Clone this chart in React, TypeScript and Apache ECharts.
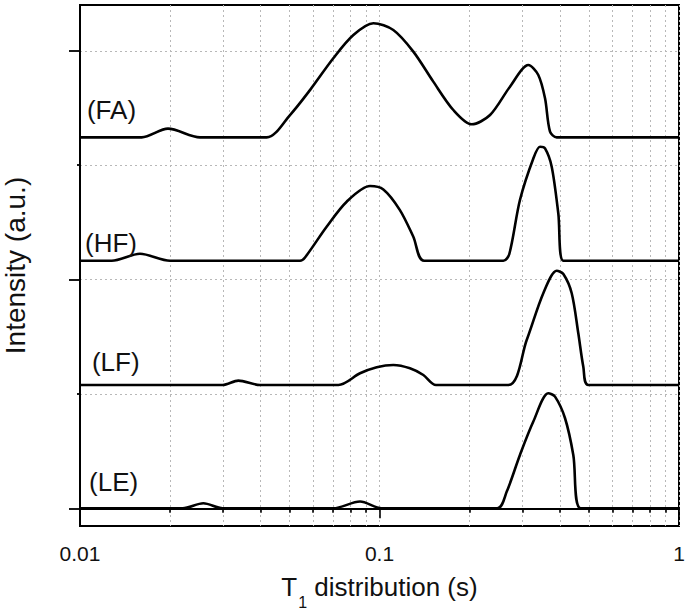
import React, { useEffect, useRef } from 'react';
import * as echarts from 'echarts';

// T1 relaxation time (s) and relative intensity for each sample
const T_FA = [0.01, 0.01607, 0.01967, 0.02517, 0.04201, 0.05025, 0.0586, 0.0701, 0.0818, 0.0954, 0.1112, 0.1297, 0.1512, 0.1764, 0.2032, 0.2339, 0.2727, 0.314, 0.339, 0.357, 0.371, 0.3906, 1];
const I_FA = [0, 0, 0.076, 0, 0, 0.195, 0.413, 0.691, 0.894, 0.997, 0.938, 0.749, 0.487, 0.239, 0.114, 0.195, 0.443, 0.632, 0.545, 0.341, 0.05, 0, 0];

const T_HF = [0.01, 0.01276, 0.01586, 0.01998, 0.0543, 0.0564, 0.0666, 0.0777, 0.093, 0.103, 0.117, 0.1297, 0.1409, 0.2591, 0.2713, 0.2944, 0.3263, 0.3435, 0.357, 0.3758, 0.3954, 0.411, 1];
const I_HF = [0, 0, 0.061, 0, 0, 0.029, 0.297, 0.516, 0.653, 0.623, 0.443, 0.21, 0, 0, 0.059, 0.531, 0.894, 0.997, 0.982, 0.822, 0.413, 0, 0];

const T_LF = [0.01, 0.02996, 0.03378, 0.0399, 0.0729, 0.0861, 0.0979, 0.1112, 0.1264, 0.1401, 0.1544, 0.2692, 0.3101, 0.3523, 0.3906, 0.411, 0.4383, 0.4611, 0.4792, 0.4981, 1];
const I_LF = [0, 0, 0.038, 0, 0, 0.102, 0.155, 0.175, 0.146, 0.087, 0, 0, 0.393, 0.802, 0.999, 0.97, 0.802, 0.452, 0.16, 0, 0];

const T_LE = [0.01, 0.02203, 0.02581, 0.02996, 0.0701, 0.0861, 0.1017, 0.2474, 0.266, 0.2944, 0.3263, 0.3661, 0.3855, 0.4164, 0.4437, 0.4696, 1];
const I_LE = [0, 0, 0.044, 0, 0, 0.059, 0, 0, 0.146, 0.466, 0.758, 1.005, 0.976, 0.787, 0.466, 0, 0];

const SAMPLE_NAMES = ['(FA)', '(HF)', '(LF)', '(LE)'];
const SAMPLE_T = [T_FA, T_HF, T_LF, T_LE];
const SAMPLE_I = [I_FA, I_HF, I_LF, I_LE];
const OFFSETS = [3.243, 2.164, 1.078, 0];
const LABEL_X = [0.01055, 0.01039, 0.01096, 0.01072];
const LABEL_Y = [3.482, 2.319, 1.281, 0.23];

const X_MAJOR = [0.01, 0.1, 1];
const X_MAJOR_LABELS = ['0.01', '0.1', '1'];
const X_MINOR = [0.02, 0.03, 0.04, 0.05, 0.06, 0.07, 0.08, 0.09, 0.2, 0.3, 0.4, 0.5, 0.6, 0.7, 0.8, 0.9];
const Y_MAJOR = [0, 2, 4];
const Y_MINOR = [1, 3];
const Y_MIN = -0.155;
const Y_MAX = 4.4;

const FONT = 'Liberation Sans, Arial, sans-serif';
const TEXT = '#111';
const GRID_LINE = { show: true, lineStyle: { color: '#b8b8b8', type: [2, 3] as any, width: 1 } };

export default function App() {
  const ref = useRef<HTMLDivElement>(null);
  useEffect(() => {
    const chart = echarts.init(ref.current!, null, { renderer: 'svg' });
    const lineSeries = SAMPLE_NAMES.map((name, s) => ({
      type: 'line',
      name,
      xAxisIndex: 0,
      yAxisIndex: 0,
      data: SAMPLE_T[s].map((t, i) => [t, OFFSETS[s] + SAMPLE_I[s][i]]),
      showSymbol: false,
      smooth: 0.3,
      lineStyle: { color: '#000', width: 2.6 },
      z: 5,
    }));
    const option: any = {
      animation: false,
      backgroundColor: '#fff',
      textStyle: { fontFamily: FONT },
      grid: {
        left: 80, top: 5, right: 6, bottom: 90,
        containLabel: false, outerBoundsMode: 'none',
        show: true, borderColor: '#000', borderWidth: 2, backgroundColor: 'transparent',
      },
      xAxis: [
        {
          type: 'log', logBase: 10, min: 0.01, max: 1, position: 'bottom',
          name: '{t|T}{s|1}{t| distribution (s)}',
          nameLocation: 'middle', nameGap: 48,
          nameTextStyle: {
            rich: {
              t: { fontSize: 26, fontFamily: FONT, color: TEXT, lineHeight: 28, verticalAlign: 'top' },
              s: { fontSize: 16, fontFamily: FONT, color: TEXT, lineHeight: 16, padding: [20, 0, 0, 1], verticalAlign: 'top' },
            },
          },
          axisLine: { show: true, lineStyle: { color: '#000', width: 2 } },
          axisTick: { show: true, customValues: X_MAJOR, length: 10, inside: false, lineStyle: { color: '#000', width: 1.6 } },
          axisLabel: {
            show: true, customValues: X_MAJOR, margin: 17, fontSize: 21, color: TEXT, fontFamily: FONT,
            formatter: (v: number) => {
              const i = X_MAJOR.findIndex((m) => Math.abs(Math.log10(m) - Math.log10(v)) < 1e-6);
              return i >= 0 ? X_MAJOR_LABELS[i] : '';
            },
          },
          splitLine: GRID_LINE,
          minorTick: { show: false },
        },
        {
          type: 'log', logBase: 10, min: 0.01, max: 1, position: 'bottom',
          axisLine: { show: false },
          axisTick: { show: true, customValues: X_MINOR, length: 4.5, inside: false, lineStyle: { color: '#000', width: 1.6 } },
          axisLabel: { show: false },
          splitLine: GRID_LINE,
        },
      ],
      yAxis: [
        {
          type: 'value', min: Y_MIN, max: Y_MAX, position: 'left',
          name: 'Intensity (a.u.)', nameLocation: 'middle', nameGap: 51,
          nameTextStyle: { fontSize: 28, color: TEXT, fontFamily: FONT },
          axisLine: { show: true, lineStyle: { color: '#000', width: 2 } },
          axisTick: { show: true, customValues: Y_MAJOR, length: 11, inside: false, lineStyle: { color: '#000', width: 1.8 } },
          axisLabel: { show: false },
          splitLine: GRID_LINE,
        },
        {
          type: 'value', min: Y_MIN, max: Y_MAX, position: 'left',
          axisLine: { show: false },
          axisTick: { show: true, customValues: Y_MINOR, length: 3, inside: false, lineStyle: { color: '#000', width: 1.8 } },
          axisLabel: { show: false },
          splitLine: GRID_LINE,
        },
      ],
      series: [
        ...lineSeries,
        {
          type: 'scatter',
          xAxisIndex: 0,
          yAxisIndex: 0,
          symbolSize: 0,
          silent: true,
          itemStyle: { opacity: 1 },
          data: SAMPLE_NAMES.map((n, i) => ({ name: n, value: [LABEL_X[i], LABEL_Y[i]] })),
          label: {
            show: true, position: 'right', distance: 0, formatter: '{b}',
            fontSize: 26, color: TEXT, fontFamily: FONT, opacity: 1,
          },
          z: 6,
        },
      ],
    };
    chart.setOption(option);
    return () => chart.dispose();
  }, []);
  return (
    <div
      ref={ref}
      style={{ position: 'fixed', left: 0, top: 0, width: 685, height: 616, background: '#fff' }}
    />
  );
}
